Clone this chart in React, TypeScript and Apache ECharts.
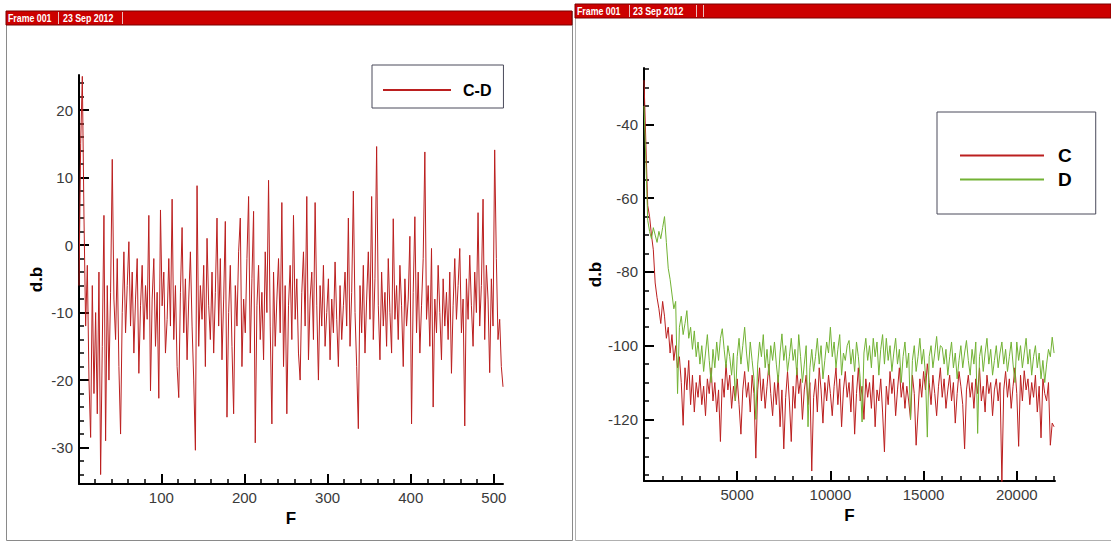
import React, { useEffect, useRef } from 'react';
import * as echarts from 'echarts';

// ---------- header texts ----------
const FRAME_TITLE = 'Frame 001';
const FRAME_DATE = '23 Sep 2012';

// ---------- left chart: C-D ----------
const LEFT_F_START = 1;
const LEFT_F_STEP = 2;
const CD_VALUES = [
  -6, 15, 25, 4, -12, -3, -20, -28.5, -6, -22,
  -10, -25, -4, -34, -15, 4.4, -29, -6, -20, -7,
  12.7, -8, -14, -2, -18, -28, -10, -1, -13, -6,
  0.5, -12, -4, -16, -8, -2, -19, -9, -3, -14,
  -6, -11, 4.4, -21.6, -8, -2, -15, -7, -22.7, 5.2,
  -9, -4, -16, -11, -2, -12, 6.8, -14, -6, -18,
  -22.6, -7, 2.6, -13, -5, -17, -8, -1, -12, -20,
  -30.4, 8.8, -15, -6, -11, -3, -18, 1, -9, -14,
  -4, -16, -7, 4, -12, -2, -17, -8, 3.5, -25.5,
  -10, -3, -15, -25, -6, -12, -1, 4, -18, -8,
  -13, -2, 7.2, -16, -5, 5, -29.3, -9, -3, -14,
  -7, -17, -1, -10, 9.6, -12, -26.5, -4, -15, -8,
  -2, -13, 6.3, -18, -6, -25, -9, -3, -14, 4.4,
  -11, -5, -16, -20, -7, -1, -12, 7.2, -17, -8,
  -4, -14, 6.3, -9, -20, -6, -12, -3, -15, -10,
  -5, -17, -8, -13, -2.5, -11, -18, -6, -14, -9,
  -4, -12, 4, -15, -7, 8, -10, -18, -27.2, -6,
  -13, -3, -16, -8, -1, -11, 7.2, -14, -5, 14.6,
  -9, -17, -4, -12, -7, -15, -2, -10, -16, 3.9,
  -11, -6, -14, -3, -9, -18, -5, -12, -8, 1.3,
  -26.5, -7, 4.2, -13, -4, -16, -9, -2, 13.8, -11,
  -6, -15, -0.5, -24, -8, -13, -3, -10, -17, -5,
  -12, -7, -14, -4, -19, -9, -2, -11, -6, -0.5,
  -13, -8, -26.8, -5, -11, -1.5, -9, -15, -4, -10,
  4.8, -12, -6, 6.8, -14, -3, -8, -18.9, -5, -12,
  14.1, -2, -14, -11, -18, -21,
];
const LEFT_X_MAJOR = [100, 200, 300, 400, 500];
const LEFT_X_MINOR = [20, 40, 60, 80, 120, 140, 160, 180, 220, 240, 260, 280, 320, 340, 360, 380, 420, 440, 460, 480];
const LEFT_Y_MAJOR = [-30, -20, -10, 0, 10, 20];
const LEFT_Y_MINOR = [-34, -32, -28, -26, -24, -22, -18, -16, -14, -12, -8, -6, -4, -2, 2, 4, 6, 8, 12, 14, 16, 18, 22, 24];

// ---------- right chart: C and D ----------
const RIGHT_F_START = 0;
const RIGHT_F_STEP = 100;
const C_VALUES = [
  -28, -45, -62, -65, -70, -74, -83, -87, -90, -94,
  -88, -92, -98, -95, -102, -97, -104, -100, -106, -103,
  -110, -121.6, -106, -112, -104, -116, -108, -118, -110, -114,
  -108, -116, -111, -119, -109, -113, -106, -115, -110, -118,
  -112, -126, -109, -114, -105, -112, -108, -117, -111, -115,
  -109, -116, -124, -112, -107, -114, -110, -118, -108, -113,
  -130.5, -112, -106, -115, -109, -117, -111, -105, -113, -119,
  -110, -116, -108, -122, -112, -128, -114, -107, -115, -126,
  -111, -117, -106, -113, -109, -120, -112, -108, -116, -110,
  -134, -114, -109, -118, -106, -112, -121, -110, -115, -108,
  -113, -119, -111, -106, -116, -109, -122, -112, -107, -114,
  -110, -118, -108, -124, -113, -106, -115, -111, -120, -109,
  -114, -110, -117, -108, -122, -112, -115, -109, -118, -128.8,
  -111, -116, -107, -113, -109, -119, -112, -106, -114, -110,
  -117, -111, -115, -120, -108, -113, -127, -118, -109, -114,
  -107, -112, -104.9, -110, -116, -108, -113, -119, -111, -106,
  -114, -109, -117, -112, -108, -115, -110, -121, -113, -107,
  -111, -116, -128, -112, -108, -114, -110, -117, -109, -113,
  -106, -115, -111, -118, -108, -113, -110, -119, -112, -109,
  -115, -110, -137, -112, -107, -114, -109, -117, -111, -106,
  -113, -127.3, -108, -115, -106.8, -112, -109, -116, -110, -114,
  -108, -118, -111, -125, -109, -113, -115, -110, -127, -121,
  -122,
];
const D_VALUES = [
  -35, -50, -66, -69, -71, -68, -70, -72, -69, -71,
  -68, -65, -72, -79, -82, -86, -90, -88, -113, -95,
  -92, -97, -94, -90.5, -98, -95, -101, -96, -103, -99,
  -105, -100, -107, -102, -97, -104, -110, -101, -106, -99,
  -104, -98, -95.4, -101, -106, -100, -103, -108, -102, -115,
  -103, -98, -105, -100, -95, -102, -107, -99, -104, -109,
  -120, -105, -99, -103, -97, -106, -101, -108, -100, -104,
  -99, -105, -110, -102, -96.8, -104, -100, -107, -103, -98,
  -104, -101, -108, -97, -103, -110, -105, -100, -122, -106,
  -101, -107, -103, -98, -105, -100, -109, -104, -99, -102,
  -95, -103, -99, -106, -101, -97, -108, -102, -104, -100,
  -98.6, -105, -101, -107, -99, -103, -109, -120.7, -102, -98,
  -104, -100, -106, -98, -103, -99, -108, -101, -97, -105,
  -98, -104, -100, -107, -102, -98, -105, -101, -110, -103,
  -99, -106, -102, -120, -104, -100, -107, -103, -98, -105,
  -101, -108, -124.8, -103, -100, -106, -102, -97.5, -104, -100,
  -100.5, -105, -101, -108, -103, -99, -106, -102, -109, -104,
  -100, -106, -102, -98.6, -104, -108, -101, -105, -99, -123.8,
  -103, -100, -107, -102, -98, -105, -101, -108, -104, -100,
  -106, -102, -99, -105, -101, -107, -103, -99, -105, -110,
  -99, -104, -100, -106, -102, -98, -105, -101, -108, -103,
  -100, -106, -102, -109, -104, -110, -105, -101, -103, -97.7,
  -102,
];
const RIGHT_X_MAJOR = [5000, 10000, 15000, 20000];
const RIGHT_X_MINOR = [1000, 2000, 3000, 4000, 6000, 7000, 8000, 9000, 11000, 12000, 13000, 14000, 16000, 17000, 18000, 19000, 21000, 22000];
const RIGHT_Y_MAJOR = [-120, -100, -80, -60, -40];
const RIGHT_Y_MINOR = [-135, -130, -125, -115, -110, -105, -95, -90, -85, -75, -70, -65, -55, -50, -45, -35, -30, -25];

const RED = '#bb1f1f';
const GREEN = '#72b234';
const FONT = '"Liberation Sans", Arial, sans-serif';

function majorAxis(gridIndex: number, min: number, max: number, ticks: number[], position: string, name: string, nameGap: number) {
  return {
    type: 'value', gridIndex, min, max, position, name, nameLocation: 'middle', nameGap,
    nameTextStyle: { fontFamily: FONT, fontWeight: 'bold', fontSize: 17, color: '#000' },
    splitLine: { show: false },
    axisLine: { show: true, onZero: false, lineStyle: { color: '#000', width: 2 } },
    axisTick: { show: true, inside: true, length: 10, customValues: ticks, lineStyle: { color: '#000', width: 2 } },
    axisLabel: {
      show: true, customValues: ticks, margin: 6, fontFamily: FONT, fontSize: 15, color: '#3a3a3a',
      formatter: (v: number) => String(v),
    },
  };
}
function minorAxis(gridIndex: number, min: number, max: number, ticks: number[], position: string) {
  return {
    type: 'value', gridIndex, min, max, position,
    splitLine: { show: false },
    axisLine: { show: false, onZero: false },
    axisTick: { show: true, inside: true, length: 5, customValues: ticks, lineStyle: { color: '#000', width: 1.5 } },
    axisLabel: { show: false },
  };
}

function header(x: number, y: number, w: number, seps: number[], dateX: number) {
  const txt = (tx: number, text: string) => ({
    type: 'text', x: tx, y: y + 7.5, scaleX: 0.8,
    style: { text, fill: '#fff', font: `bold 11px ${FONT}`, verticalAlign: 'middle' },
  });
  const els: any[] = [
    { type: 'rect', shape: { x, y, width: w, height: 14 }, style: { fill: '#cc0000', stroke: '#7a0000', lineWidth: 1 } },
    txt(x + 2, FRAME_TITLE),
    txt(dateX, FRAME_DATE),
  ];
  seps.forEach((sx) => els.push({ type: 'line', shape: { x1: sx, y1: y + 1, x2: sx, y2: y + 13 }, style: { stroke: '#e8c0c0', lineWidth: 1 } }));
  return els;
}

export default function App() {
  const ref = useRef<HTMLDivElement>(null);
  useEffect(() => {
    if (!ref.current) return;
    const chart = echarts.init(ref.current, undefined, { renderer: 'svg' });
    const cdData = CD_VALUES.map((v, i) => [LEFT_F_START + i * LEFT_F_STEP, v]);
    const cData = C_VALUES.map((v, i) => [RIGHT_F_START + i * RIGHT_F_STEP, v]);
    const dData = D_VALUES.map((v, i) => [RIGHT_F_START + i * RIGHT_F_STEP, v]);
    chart.setOption({
      animation: false,
      backgroundColor: '#fff',
      grid: [
        { left: 79, top: 75, width: 424, height: 409 },
        { left: 644, top: 68, width: 411, height: 413 },
      ],
      xAxis: [
        majorAxis(0, 1, 511, LEFT_X_MAJOR, 'bottom', 'F', 20),
        minorAxis(0, 1, 511, LEFT_X_MINOR, 'bottom'),
        majorAxis(1, 0, 22050, RIGHT_X_MAJOR, 'bottom', 'F', 19),
        minorAxis(1, 0, 22050, RIGHT_X_MINOR, 'bottom'),
      ],
      yAxis: [
        majorAxis(0, -35.4, 25.2, LEFT_Y_MAJOR, 'left', 'd.b', 34),
        minorAxis(0, -35.4, 25.2, LEFT_Y_MINOR, 'left'),
        majorAxis(1, -136.7, -24.7, RIGHT_Y_MAJOR, 'left', 'd.b', 32),
        minorAxis(1, -136.7, -24.7, RIGHT_Y_MINOR, 'left'),
      ],
      legend: [
        {
          data: ['C-D'], left: 372, top: 65, orient: 'vertical', selectedMode: false,
          padding: [17, 12, 10, 10], itemWidth: 68, itemHeight: 16,
          borderColor: '#4a4a5a', borderWidth: 1, backgroundColor: '#fff',
          itemStyle: { opacity: 0 },
          textStyle: { fontFamily: FONT, fontWeight: 'bold', fontSize: 16, color: '#000', lineHeight: 16, padding: [0, 0, 0, 7] },
        },
        {
          data: ['C', 'D'], left: 937, top: 112, orient: 'vertical', selectedMode: false,
          padding: [34, 24, 25, 22], itemWidth: 84, itemHeight: 19, itemGap: 5,
          borderColor: '#4a4a5a', borderWidth: 1, backgroundColor: '#fff',
          itemStyle: { opacity: 0 },
          textStyle: { fontFamily: FONT, fontWeight: 'bold', fontSize: 19, color: '#000', lineHeight: 19, padding: [0, 0, 0, 9] },
        },
      ],
      series: [
        { name: 'C-D', type: 'line', xAxisIndex: 0, yAxisIndex: 0, data: cdData, symbol: 'none', clip: true, lineStyle: { color: RED, width: 1 }, itemStyle: { color: RED } },
        { name: 'C', type: 'line', xAxisIndex: 2, yAxisIndex: 2, data: cData, symbol: 'none', clip: true, lineStyle: { color: RED, width: 1 }, itemStyle: { color: RED } },
        { name: 'D', type: 'line', xAxisIndex: 2, yAxisIndex: 2, data: dData, symbol: 'none', clip: true, lineStyle: { color: GREEN, width: 1 }, itemStyle: { color: GREEN } },
      ],
      graphic: [
        { type: 'polyline', shape: { points: [[6.5, 11], [6.5, 540.5], [572.5, 540.5], [572.5, 11]] }, style: { stroke: '#8a8a8a', fill: null, lineWidth: 1 } },
        { type: 'polyline', shape: { points: [[575.5, 4], [575.5, 540.5], [1111, 540.5]] }, style: { stroke: '#b0b0b0', fill: null, lineWidth: 1 } },
        ...header(6, 11, 566, [58.5, 122.5], 63),
        ...header(575, 4, 536, [629.5, 696.5, 703.5], 633),
      ],
    });
    return () => chart.dispose();
  }, []);
  return <div ref={ref} style={{ position: 'fixed', left: 0, top: 0, width: 1111, height: 542 }} />;
}
